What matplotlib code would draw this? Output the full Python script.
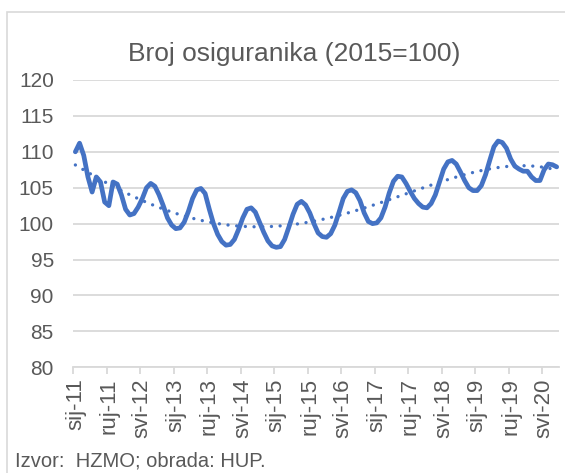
import numpy as np
import matplotlib.pyplot as plt
from matplotlib.patches import Rectangle

plt.rcParams['font.family'] = ['Liberation Sans', 'DejaVu Sans']

# monthly index, sij-11 .. kol-20
index = [110.0, 111.2, 109.5, 106.5, 104.4, 106.5, 105.8, 103.0, 102.5, 105.8,
         105.5, 104.0, 102.0, 101.2, 101.4, 102.3, 103.5, 105.0, 105.6, 105.2,
         104.0, 102.5, 100.8, 99.8, 99.3, 99.4, 100.2, 101.7, 103.5, 104.7,
         104.9, 104.2, 102.0, 100.0, 98.5, 97.5, 97.0, 97.1, 97.8, 99.2,
         100.8, 102.0, 102.2, 101.6, 100.2, 98.8, 97.6, 96.9, 96.7, 96.8,
         97.8, 99.5, 101.3, 102.7, 103.1, 102.6, 101.5, 100.0, 98.7, 98.2,
         98.1, 98.6, 99.8, 101.6, 103.5, 104.5, 104.7, 104.3, 103.2, 101.5,
         100.3, 100.0, 100.1, 100.8, 102.3, 104.3, 105.9, 106.6, 106.5, 105.6,
         104.5, 103.5, 102.8, 102.3, 102.2, 102.8, 104.0, 105.8, 107.6, 108.6,
         108.8, 108.3, 107.2, 106.0, 105.0, 104.6, 104.6, 105.3, 106.8, 108.8,
         110.7, 111.5, 111.3, 110.5, 109.0, 108.0, 107.6, 107.3, 107.3, 106.5,
         106.0, 106.0, 107.5, 108.3, 108.2, 107.9]
tick_labels = ['sij-11', 'ruj-11', 'svi-12', 'sij-13', 'ruj-13', 'svi-14',
               'sij-15', 'ruj-15', 'svi-16', 'sij-17', 'ruj-17', 'svi-18',
               'sij-19', 'ruj-19', 'svi-20']

BLUE = '#4472C4'
GREY = '#595959'
GRID = '#D9D9D9'

n = len(index)
x = np.arange(n) + 0.5
# polynomial trend line (like Excel's)
trend = np.polyval(np.polyfit(x, index, 4), x)

fig = plt.figure(figsize=(5.65, 4.73), dpi=100)
ax = fig.add_axes([0.1297, 0.2235, 0.8593, 0.6074])

fig.patches.append(Rectangle((7 / 565, -0.1), 1.2, 1 - 12 / 473 + 0.1,
                             transform=fig.transFigure, fill=False,
                             edgecolor=GRID, lw=1.2))

ax.plot(x, index, color=BLUE, lw=3.4, solid_joinstyle='round',
        solid_capstyle='round', zorder=3)
ax.plot(x, trend, color=BLUE, lw=2.4, ls=(0, (0.01, 2.6)),
        dash_capstyle='round', zorder=4)

ax.set_xlim(0, n)
ax.set_ylim(80, 120)
ax.set_yticks(range(80, 121, 5))
ax.grid(axis='y', color=GRID, lw=1.3)
ax.set_axisbelow(True)
for s in ['top', 'right', 'left']:
    ax.spines[s].set_visible(False)
ax.spines['bottom'].set_color(GRID)
ax.spines['bottom'].set_linewidth(1.3)

ax.set_xticks(np.arange(0, n, 8))
ax.set_xticklabels([])
ax.set_xticks(np.arange(0, n, 8)[:len(tick_labels)] + 0.5, minor=True)
ax.set_xticklabels(tick_labels, minor=True, rotation=90)
ax.tick_params(axis='x', which='major', length=5, color=GRID, width=1.3)
ax.tick_params(axis='x', which='minor', length=0, pad=8, labelsize=16,
               labelcolor=GREY)
ax.tick_params(axis='y', length=0, pad=14, labelsize=15, labelcolor=GREY)

fig.text(0.52, 0.885, 'Broj osiguranika (2015=100)', ha='center',
         va='center', fontsize=19, color=GREY)
fig.text(0.027, 0.025, 'Izvor:  HZMO; obrada: HUP.', ha='left', va='center',
         fontsize=14.5, color=GREY)

fig.savefig('out.png', dpi=100)
